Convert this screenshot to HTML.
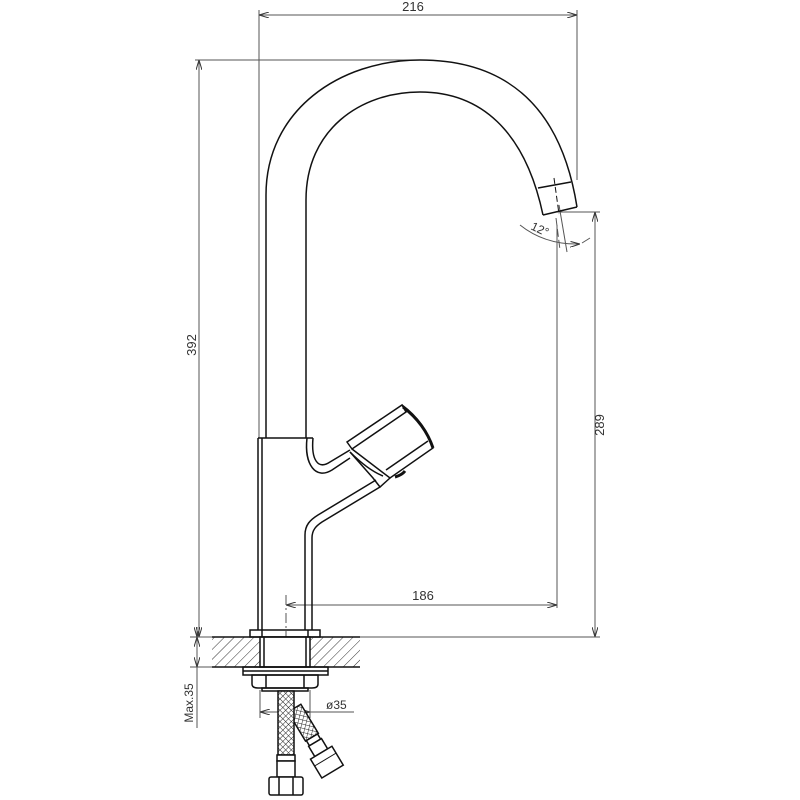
<!DOCTYPE html>
<html><head><style>html,body{margin:0;padding:0;background:#fff}svg{display:block}</style></head>
<body>
<svg width="800" height="800" viewBox="0 0 800 800" xmlns="http://www.w3.org/2000/svg" font-family="Liberation Sans, sans-serif">
<defs>
<pattern id="h" width="7" height="7" patternUnits="userSpaceOnUse" patternTransform="rotate(45)"><line x1="0" y1="0" x2="0" y2="7" stroke="#333" stroke-width="1"/></pattern>
<pattern id="m" width="4" height="4" patternUnits="userSpaceOnUse" patternTransform="rotate(45)"><rect width="4" height="4" fill="#fff"/><path d="M0 0H4M0 0V4" stroke="#222" stroke-width="1"/></pattern>
<marker id="a" markerWidth="10" markerHeight="6" refX="10" refY="3" orient="auto-start-reverse" markerUnits="userSpaceOnUse"><path d="M0 0L10 3L0 6" fill="none" stroke="#333" stroke-width="1"/></marker>
</defs>
<g stroke="#555" stroke-width="1" fill="none">
<line x1="259" y1="10" x2="259" y2="438"/><line x1="577" y1="10" x2="577" y2="180"/>
<line x1="259" y1="15" x2="577" y2="15" marker-start="url(#a)" marker-end="url(#a)"/>
<line x1="195" y1="60" x2="420" y2="60"/>
<line x1="199" y1="60" x2="199" y2="637" marker-start="url(#a)" marker-end="url(#a)"/>
<line x1="555" y1="212" x2="600" y2="212"/>
<line x1="595" y1="212" x2="595" y2="637" marker-start="url(#a)" marker-end="url(#a)"/>
<line x1="360" y1="637" x2="600" y2="637"/>
<line x1="557" y1="225" x2="557" y2="608"/>
<line x1="286" y1="605" x2="557" y2="605" marker-start="url(#a)" marker-end="url(#a)"/>
<line x1="286" y1="595" x2="286" y2="645" stroke-dasharray="10,3,2,3"/>
<line x1="190" y1="637" x2="212" y2="637"/><line x1="190" y1="667" x2="212" y2="667"/>
<line x1="197" y1="627" x2="197" y2="637" marker-end="url(#a)"/>
<line x1="197" y1="637" x2="197" y2="667" marker-start="url(#a)" marker-end="url(#a)"/>
<line x1="197" y1="667" x2="197" y2="728"/>
<line x1="260" y1="690" x2="260" y2="718"/><line x1="310" y1="690" x2="310" y2="718"/>
<line x1="260" y1="712" x2="310" y2="712" marker-start="url(#a)" marker-end="url(#a)"/>
<line x1="310" y1="712" x2="354" y2="712"/>
<line x1="559" y1="205" x2="567" y2="252"/>
<line x1="556" y1="218" x2="560" y2="250" stroke-dasharray="8,3"/>
<path d="M520 225 Q545 245 580 244" marker-end="url(#a)"/>
<path d="M582 243 L590 238"/>
</g>
<g fill="#333" font-size="13">
<text x="413" y="11" text-anchor="middle">216</text>
<text transform="translate(196,345) rotate(-90)" text-anchor="middle">392</text>
<text transform="translate(604,425) rotate(-90)" text-anchor="middle">289</text>
<text x="423" y="600" text-anchor="middle">186</text>
<text x="326" y="709" font-size="12">ø35</text>
<text transform="translate(193,703) rotate(-90)" text-anchor="middle" font-size="12">Max.35</text>
<text transform="translate(530,229) rotate(25)" font-size="12">12°</text>
</g>
<g stroke="#111" stroke-width="1.5" fill="none">
<path d="M266 438 L266 195 C266 110 340 60 420 60 C500 60 560 100 577 207"/>
<path d="M306 438 L306 200 C306 130 360 92 420 92 C480 92 525 130 543 215"/>
<line x1="538" y1="188" x2="571" y2="182"/>
<line x1="543" y1="215" x2="577" y2="207"/>
<line x1="554" y1="178" x2="559" y2="214" stroke-width="1" stroke-dasharray="6,3"/>
<path d="M258 438 L313 438"/>
<line x1="258" y1="438" x2="258" y2="630"/><line x1="262" y1="438" x2="262" y2="630"/>
<path d="M313 438 C311 460 318 470 330 462 L350 450"/>
<path d="M307 438 C304 465 316 480 332 470 L350 458"/>
<path d="M305 630 L305 535 C305 525 310 520 318 515 L376 480"/>
<path d="M312 630 L312 538 C312 530 316 526 322 522 L380 487"/>
<path d="M347 442 L402 405 L406 412 L352 449 Z"/>
<path d="M402 405 Q425 422 433 448 L390 478 L352 449"/>
<path d="M386 470 L428 441"/>
<path d="M350 452 L373 478 L380 487 L390 478"/>
<path d="M350 452 Q368 470 383 476"/>
<path d="M395 477 Q402 475 405 471" stroke-width="3"/>
<path d="M403 407 Q425 424 433 448" stroke-width="3"/>
<rect x="250" y="630" width="70" height="7"/>
<line x1="262" y1="630" x2="262" y2="637"/><line x1="308" y1="630" x2="308" y2="637"/>
</g>
<rect x="212" y="637" width="148" height="30" fill="url(#h)"/>
<rect x="260" y="637" width="50" height="30" fill="#fff" stroke="#111" stroke-width="1.5"/>
<g stroke="#111" stroke-width="1.5" fill="none">
<line x1="212" y1="637" x2="360" y2="637"/><line x1="212" y1="667" x2="360" y2="667"/>
<line x1="264" y1="637" x2="264" y2="667"/><line x1="306" y1="637" x2="306" y2="667"/>
<rect x="243" y="667" width="85" height="8"/>
<line x1="243" y1="671" x2="328" y2="671"/>
<path d="M252 675 L318 675 L318 684 Q318 688 312 688 L258 688 Q252 688 252 684 Z"/>
<line x1="266" y1="675" x2="266" y2="688"/><line x1="304" y1="675" x2="304" y2="688"/>
<rect x="262" y="688" width="46" height="3"/>
</g>
<g transform="translate(288,712) rotate(-31)">
<rect x="0" y="0" width="15" height="34" fill="url(#m)" stroke="#111" stroke-width="1.5"/>
<rect x="1" y="34" width="13" height="6" fill="#fff" stroke="#111" stroke-width="1.5"/>
<rect x="0" y="40" width="15" height="12" fill="#fff" stroke="#111" stroke-width="1.5"/>
<rect x="-5" y="52" width="25" height="22" fill="#fff" stroke="#111" stroke-width="1.5"/>
<line x1="-5" y1="60" x2="20" y2="60" stroke="#111"/>
</g>
<rect x="278" y="691" width="16" height="64" fill="url(#m)" stroke="#111" stroke-width="1.5"/>
<g stroke="#111" stroke-width="1.5" fill="#fff">
<rect x="277" y="755" width="18" height="6"/>
<rect x="277" y="761" width="18" height="16"/>
<rect x="269" y="777" width="34" height="18" rx="2"/>
<line x1="279" y1="777" x2="279" y2="795"/><line x1="293" y1="777" x2="293" y2="795"/>
</g>
</svg>
</body></html>
